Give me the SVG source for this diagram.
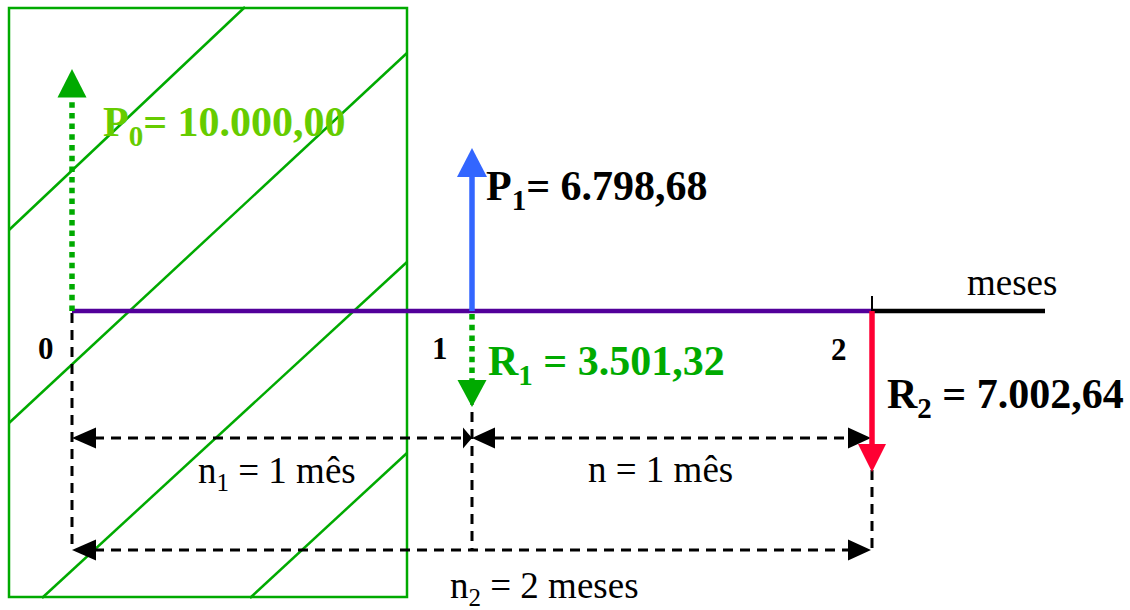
<svg xmlns="http://www.w3.org/2000/svg" width="1130" height="610" viewBox="0 0 1130 610">
<style>
.hatch{stroke:#00AA00;stroke-width:2.5;fill:none}
.dash{stroke:#000;stroke-width:3;stroke-dasharray:10 7;fill:none}
.bold{font-family:"Liberation Serif",serif;font-weight:bold;font-size:42px}
.lbl{font-family:"Liberation Serif",serif;font-weight:bold;font-size:31px;fill:#000}
.reg{font-family:"Liberation Serif",serif;font-size:37px;fill:#000}
</style>
<rect width="1130" height="610" fill="#fff"/>
<g id="hatched-box">
<rect class="hatch" x="9" y="8" width="398" height="589"/>
<line class="hatch" x1="245" y1="7" x2="9" y2="230"/>
<line class="hatch" x1="407" y1="53" x2="9" y2="423"/>
<line class="hatch" x1="407" y1="262" x2="42" y2="598"/>
<line class="hatch" x1="407" y1="453" x2="250" y2="598"/>
</g>
<g id="connectors">
<line class="dash" x1="72" y1="313" x2="72" y2="550"/>
<line class="dash" x1="472" y1="395" x2="472" y2="550"/>
<line class="dash" x1="872" y1="470" x2="872" y2="550"/>
<line class="dash" x1="94" y1="438" x2="466" y2="438"/>
<line class="dash" x1="494" y1="438" x2="850" y2="438"/>
<line class="dash" x1="94" y1="550" x2="850" y2="550"/>
<polygon points="72,438 96,427.5 96,448.5" fill="#000"/>
<polygon points="472,438 463,427.5 463,448.5" fill="#000"/>
<polygon points="472,438 495,427.5 495,448.5" fill="#000"/>
<polygon points="871,438 848,427.5 848,448.5" fill="#000"/>
<polygon points="72,550 96,539.5 96,560.5" fill="#000"/>
<polygon points="871,550 848,539.5 848,560.5" fill="#000"/>
</g>
<g id="axis">
<line x1="72" y1="311" x2="872" y2="311" stroke="#52009A" stroke-width="4.5"/>
<line x1="872" y1="311" x2="1045" y2="311" stroke="#000" stroke-width="4.5"/>
<line x1="872" y1="296" x2="872" y2="325" stroke="#000" stroke-width="2"/>
<text class="reg" x="967" y="295">meses</text>
<text class="lbl" x="38" y="359">0</text>
<text class="lbl" x="432" y="359">1</text>
<text class="lbl" x="831" y="360">2</text>
</g>
<g id="P0">
<line x1="72" y1="311" x2="72" y2="96" stroke="#00AA00" stroke-width="5.5" stroke-dasharray="5.5 5.2"/>
<polygon points="72,69 57.5,97.5 86.5,97.5" fill="#00AA00"/>
<text class="bold" x="103" y="136" fill="#66CC00">P<tspan font-size="29" dy="10">0</tspan><tspan dy="-10">= 10.000,00</tspan></text>
</g>
<g id="P1">
<line x1="472" y1="311" x2="472" y2="176" stroke="#3366FF" stroke-width="5.5"/>
<polygon points="472,148 457,177 487,177" fill="#3366FF"/>
<text class="bold" x="486" y="200" fill="#000">P<tspan font-size="29" dy="10">1</tspan><tspan dy="-10">= 6.798,68</tspan></text>
</g>
<g id="R1">
<line x1="472" y1="314" x2="472" y2="381" stroke="#00AA00" stroke-width="5.5" stroke-dasharray="5.5 5.2"/>
<polygon points="472,407 457.5,380 486.5,380" fill="#00AA00"/>
<text class="bold" x="488" y="375" fill="#00AA00">R<tspan font-size="29" dy="10">1</tspan><tspan dy="-10"> = 3.501,32</tspan></text>
</g>
<g id="R2">
<line x1="872" y1="311" x2="872" y2="446" stroke="#FF0033" stroke-width="5.5"/>
<polygon points="872,472 858,444 886,444" fill="#FF0033"/>
<text class="bold" x="887" y="408" fill="#000">R<tspan font-size="29" dy="10">2</tspan><tspan dy="-10"> = 7.002,64</tspan></text>
</g>
<g id="dim-labels">
<text class="reg" x="198" y="483">n<tspan font-size="25" dy="8">1</tspan><tspan dy="-8"> = 1 mês</tspan></text>
<text class="reg" x="588" y="482">n = 1 mês</text>
<text class="reg" x="450" y="598">n<tspan font-size="25" dy="8">2</tspan><tspan dy="-8"> = 2 meses</tspan></text>
</g>
</svg>
